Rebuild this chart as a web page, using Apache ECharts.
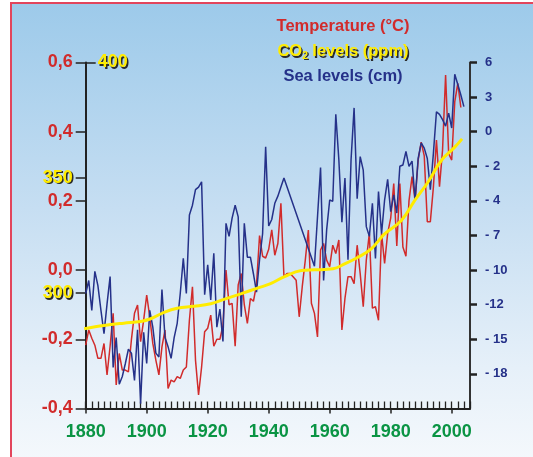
<!DOCTYPE html>
<html><head><meta charset="utf-8">
<script src="https://cdn.jsdelivr.net/npm/echarts@6/dist/echarts.min.js"></script>
<style>
html,body{margin:0;padding:0;background:#fff;width:533px;height:457px;overflow:hidden;}
#bg{position:absolute;left:10px;top:2px;width:523px;height:455px;border-left:2px solid #e2455c;border-top:2px solid #e2455c;background:linear-gradient(to bottom,#9dcaea 0%,#c6def2 45%,#e6f0f9 80%,#f4f8fc 100%);}
#chart{position:absolute;left:0;top:0;width:533px;height:457px;}
</style></head><body>
<div id="bg"></div><div id="chart"></div>
<script>
// ---- data ----
const tempStartYear = 1880;
const temperature = [
 -0.217,-0.173,-0.197,-0.217,-0.255,-0.255,-0.212,-0.303,-0.22,-0.125,
 -0.332,-0.241,-0.289,-0.289,-0.294,-0.2,-0.125,-0.101,-0.207,-0.145,
 -0.072,-0.135,-0.212,-0.26,-0.303,-0.222,-0.173,-0.342,-0.318,-0.323,
 -0.308,-0.313,-0.289,-0.28,-0.145,-0.048,-0.26,-0.361,-0.28,-0.178,
 -0.168,-0.13,-0.22,-0.2,-0.2,-0.16,0.0,-0.1,-0.096,-0.22,
 -0.043,-0.01,-0.1,-0.154,-0.082,-0.09,-0.043,0.10,0.04,0.035,
 0.06,0.116,0.043,0.077,0.193,-0.019,-0.01,-0.01,-0.019,-0.029,
 -0.135,-0.048,0.029,0.116,-0.096,-0.125,-0.193,0.058,0.077,0.029,
 0.01,0.072,0.048,0.087,-0.173,-0.082,-0.019,-0.019,-0.039,0.072,
 -0.01,-0.106,0.029,0.106,-0.11,-0.106,-0.145,0.106,0.019,0.106,
 0.15,0.25,0.07,0.25,0.067,0.04,0.2,0.27,0.2,0.318,
 0.37,0.33,0.14,0.14,0.24,0.376,0.241,0.347,0.564,0.337,
 0.318,0.486,0.54,0.47
];
const seaStartYear = 1880;
const seaLevel = [
 -11.8,-10.8,-13.1,-10.1,-11.2,-13.1,-14.9,-12.6,-10.5,-17.5,
 -15.2,-18.8,-18.2,-17.2,-16.1,-16.4,-18.5,-14.6,-20.3,-14.8,
 -17.2,-13.1,-14.4,-16.4,-16.7,-11.5,-15.2,-15.9,-16.8,-15.2,
 -14.1,-11.8,-9.1,-11.8,-5.75,-5.0,-3.8,-3.6,-3.2,-11.9,
 -9.6,-12.3,-8.7,-14.4,-13.0,-15.5,-6.4,-7.4,-6.0,-5.0,
 -5.9,-13.6,-6.4,-9.0,-9.0,-10.3,-11.7,-9.2,-7.2,-0.5,
 -6.6,-6.1,-4.85,-4.3,-3.6,-2.9,null,null,null,null,
 null,null,null,null,null,-9.7,null,-2.1,-10.8,-6.9,
 -4.6,-4.7,2.0,-1.5,-6.3,-2.9,-9.2,-1.5,2.5,-4.5,
 -1.25,-2.3,-6.65,-7.4,-4.85,-9.1,-3.95,-7.2,-4.6,-3.0,
 -5.5,-4.2,-5.6,-2.0,-1.9,-0.86,-2.0,-1.6,-4.6,-1.4,
 -0.2,-0.6,-1.4,-3.8,-1.0,2.2,2.0,1.6,1.1,2.1,
 0.95,5.1,4.3,3.5,2.6
];
const co2Years = [1879.5,1886,1892.5,1898,1901.3,1905.7,1910,1915.5,1921,1925.3,1930.8,1936.3,1940.4,1945.2,1950.7,1955.1,1961.1,1964.9,1969.3,1973.6,1978,1983.5,1987.9,1992.2,1996.6,2001,2003.4];
const co2Values = [284.6,286.0,287.0,287.7,288.9,291.7,293.5,294.3,295.4,297.3,299.7,302.2,304.0,307.2,309.8,310.1,310.6,312.7,315.6,319.2,325.7,331.5,340.2,348.1,357.5,363.3,366.9];
const co2LeftTicks = [300, 350];
const co2RightTicks = [400];
const seaTickLabels = ['6','3','0','- 2','- 4','- 7','- 10','-12','- 15','- 18'];
const seaTop = 6, seaStep = 8/3;
const titles = ['Temperature (°C)', 'CO{s|2} levels (ppm)', 'Sea levels (cm)'];

// ---- chart ----
const FONT = '"Liberation Sans", Arial, sans-serif';
const seaTickValues = seaTickLabels.map((_, i) => seaTop - i * seaStep);
const tempData = temperature.map((v, i) => [tempStartYear + i, v]);
const seaData = seaLevel.map((v, i) => [seaStartYear + i, v]);
const co2Data = co2Years.map((y, i) => [y, co2Values[i]]);
const RED = '#d12b2b', BLUE = '#253189', YEL = '#ffec00', GREEN = '#0a9444', AX = '#222';
const shadow = {textShadowColor: '#2a2a2a', textShadowOffsetX: 1.5, textShadowOffsetY: 1.5, textShadowBlur: 0.5};

const chart = echarts.init(document.getElementById('chart'), null, {renderer: 'canvas'});
chart.setOption({
  animation: false,
  backgroundColor: 'transparent',
  title: [
    {text: titles[0], left: 338, top: 13, textAlign: 'center', textStyle: {color: RED, fontFamily: FONT, fontWeight: 'bold', fontSize: 16.5}},
    {text: titles[1], left: 338, top: 37, textAlign: 'center', textStyle: Object.assign({color: YEL, fontFamily: FONT, fontWeight: 'bold', fontSize: 16.5,
      rich: {s: Object.assign({color: YEL, fontFamily: FONT, fontWeight: 'bold', fontSize: 10, padding: [9, 0, 0, 0]}, shadow)}}, shadow)},
    {text: titles[2], left: 338, top: 63, textAlign: 'center', textStyle: {color: BLUE, fontFamily: FONT, fontWeight: 'bold', fontSize: 16.5}}
  ],
  grid: {left: 85.7, right: 63, top: 62.5, bottom: 48.5, containLabel: false},
  xAxis: [
    {type: 'value', position: 'bottom', min: 1880, max: 2006, interval: 20,
     axisLine: {show: true, onZero: false, lineStyle: {color: AX, width: 2}},
     axisTick: {show: true, inside: false, length: 5, lineStyle: {color: AX, width: 1.5}},
     axisLabel: {show: true, color: GREEN, fontFamily: FONT, fontWeight: 'bold', fontSize: 18, margin: 15,
       showMaxLabel: false, formatter: v => (v % 20 === 0 ? String(v) : '')},
     splitLine: {show: false}},
    {type: 'value', position: 'bottom', min: 1880, max: 2006, interval: 2,
     axisLine: {show: false, onZero: false}, axisLabel: {show: false}, splitLine: {show: false},
     axisTick: {show: true, inside: true, length: 7, lineStyle: {color: AX, width: 1.3}}}
  ],
  yAxis: [
    {type: 'value', position: 'left', min: -0.4, max: 0.6, interval: 0.2,
     axisLine: {show: true, onZero: false, lineStyle: {color: AX, width: 2}},
     axisTick: {show: true, inside: false, length: 10, lineStyle: {color: AX, width: 1.5}},
     axisLabel: {color: RED, fontFamily: FONT, fontWeight: 'bold', fontSize: 18, margin: 13,
       formatter: v => v.toFixed(1).replace('.', ',')},
     splitLine: {show: false}},
    {type: 'value', position: 'left', min: 250, max: 400,
     axisLine: {show: false, onZero: false}, splitLine: {show: false},
     axisTick: {show: true, inside: false, length: 10, customValues: co2LeftTicks, lineStyle: {color: AX, width: 1.5}},
     axisLabel: Object.assign({color: YEL, fontFamily: FONT, fontWeight: 'bold', fontSize: 18, margin: 13, customValues: co2LeftTicks}, shadow)},
    {type: 'value', position: 'left', min: 250, max: 400,
     axisLine: {show: false, onZero: false}, splitLine: {show: false},
     axisTick: {show: true, inside: true, length: 10, customValues: co2RightTicks, lineStyle: {color: AX, width: 1.5}},
     axisLabel: Object.assign({color: YEL, fontFamily: FONT, fontWeight: 'bold', fontSize: 18, inside: true, margin: 12, customValues: co2RightTicks}, shadow)},
    {type: 'value', position: 'right', min: seaTop - 10 * seaStep, max: seaTop,
     axisLine: {show: true, onZero: false, lineStyle: {color: '#333', width: 2}}, splitLine: {show: false},
     axisTick: {show: true, inside: false, length: 7, customValues: seaTickValues, lineStyle: {color: AX, width: 2.5}},
     axisLabel: {color: BLUE, fontFamily: FONT, fontWeight: 'bold', fontSize: 13, margin: 15, customValues: seaTickValues,
       formatter: v => { let k = Math.round((seaTop - v) / seaStep); return seaTickLabels[k] !== undefined ? seaTickLabels[k] : ''; }}}
  ],
  series: [
    {name: 'Temperature', type: 'line', xAxisIndex: 0, yAxisIndex: 0, data: tempData, showSymbol: false, symbol: 'none',
     lineStyle: {color: RED, width: 1.5}, z: 3},
    {name: 'Sea levels', type: 'line', xAxisIndex: 0, yAxisIndex: 3, data: seaData, showSymbol: false, symbol: 'none', connectNulls: true,
     lineStyle: {color: BLUE, width: 1.5}, z: 4},
    {name: 'CO2', type: 'line', xAxisIndex: 0, yAxisIndex: 1, data: co2Data, showSymbol: false, symbol: 'none', smooth: 0.4,
     lineStyle: {color: YEL, width: 3}, z: 5}
  ]
});
</script>
</body></html>
